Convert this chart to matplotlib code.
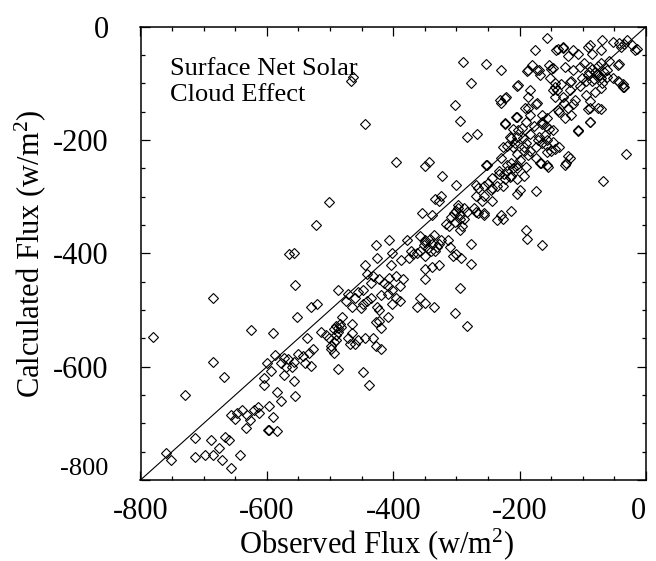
import matplotlib
matplotlib.use('Agg')
import matplotlib.pyplot as plt
from matplotlib.ticker import MultipleLocator

# Observed vs calculated surface net solar cloud effect (W/m^2)
points = [
(-157,-20),(-175,-42),(-139,-39),(-132,-36),(-116,-42),(-123,-52),(-108,-49),(-91,-35),(-69,-23),(-52,-27),
(-35,-30),(-30,-23),(-22,-33),(-18,-42),(-40,-36),(-71,-42),(-85,-49),(-98,-64),(-104,-71),(-88,-71),
(-71,-64),(-58,-61),(-45,-68),(-61,-77),(-78,-83),(-91,-86),(-101,-90),(-85,-96),(-71,-90),(-52,-90),
(-45,-96),(-37,-102),(-35,-107),(-71,-109),(-81,-115),(-95,-121),(-88,-131),(-71,-146),(-91,-146),(-88,-169),
(-108,-184),(-118,-156),(-115,-137),(-124,-143),(-128,-162),(-137,-150),(-131,-124),(-121,-112),(-134,-102),(-118,-96),
(-104,-105),(-144,-99),(-147,-112),(-144,-124),(-152,-90),(-150,-74),(-170,-77),(-167,-86),(-187,-77),(-180,-68),
(-128,-71),(-115,-77),(-154,-68),(-141,-112),(-157,-162),(-164,-156),(-154,-181),(-164,-172),(-170,-194),(-157,-200),
(-147,-203),(-164,-206),(-150,-219),(-157,-222),(-167,-241),(-157,-244),(-137,-213),(-121,-232),(-128,-244),(-174,-232),
(-183,-219),(-193,-213),(-174,-213),(-204,-194),(-213,-197),(-210,-181),(-197,-178),(-204,-159),(-187,-143),(-190,-169),
(-184,-156),(-174,-137),(-223,-172),(-221,-124),(-230,-134),(-204,-105),(-187,-124),(-32,-225),(-68,-273),(-15,-39),
(-230,-77),(-254,-66),(-290,-62),(-277,-99),(-303,-138),(-294,-167),(-284,-194),(-268,-189),(-254,-244),(-220,-210),
(-230,-232),(-213,-241),(-204,-250),(-220,-244),(-210,-250),(-213,-263),(-223,-269),(-232,-260),(-226,-282),(-236,-282),
(-246,-288),(-256,-298),(-266,-285),(-269,-298),(-259,-307),(-272,-320),(-266,-329),(-256,-329),(-243,-307),(-200,-288),
(-174,-290),(-236,-342),(-226,-339),(-213,-326),(-204,-295),(-190,-358),(-189,-374),(-165,-386),(-300,-279),(-323,-263),
(-344,-238),(-349,-245),(-338,-333),(-324,-298),(-328,-307),(-334,-304),(-355,-329),(-317,-348),(-311,-351),(-304,-329),
(-298,-314),(-298,-320),(-288,-320),(-294,-333),(-288,-339),(-302,-345),(-294,-358),(-291,-351),(-308,-336),(-284,-327),
(-269,-327),(-256,-333),(-336,-367),(-357,-370),(-349,-377),(-352,-386),(-338,-383),(-328,-383),(-324,-377),(-334,-396),
(-357,-396),(-349,-405),(-362,-400),(-313,-377),(-310,-389),(-306,-405),(-300,-402),(-293,-408),(-277,-383),(-277,-418),
(-295,-462),(-302,-506),(-283,-528),(-349,-427),(-338,-424),(-328,-421),(-349,-446),(-357,-478),(-362,-494),(-336,-494),
(-349,-487),(-379,-377),(-372,-396),(-388,-411),(-375,-408),(-368,-402),(-402,-399),(-406,-377),(-404,-421),(-428,-386),
(-425,-408),(-445,-421),(-441,-437),(-435,-452),(-448,-465),(-432,-440),(-422,-446),(-415,-452),(-409,-458),(-402,-465),
(-406,-443),(-395,-440),(-385,-446),(-389,-458),(-409,-471),(-395,-478),(-389,-484),(-402,-490),(-419,-474),(-425,-494),
(-422,-500),(-428,-522),(-422,-519),(-409,-512),(-419,-531),(-435,-478),(-441,-484),(-455,-468),(-461,-478),(-471,-471),
(-475,-484),(-488,-465),(-448,-490),(-465,-494),(-451,-497),(-461,-560),(-455,-553),(-445,-550),(-432,-550),(-428,-563),
(-419,-569),(-448,-610),(-438,-632),(-488,-604),(-465,-525),(-465,-541),(-481,-512),(-485,-525),(-488,-531),(-494,-534),
(-491,-544),(-501,-550),(-494,-556),(-498,-563),(-491,-553),(-514,-538),(-507,-544),(-537,-550),(-527,-569),(-534,-575),
(-543,-582),(-550,-578),(-540,-594),(-530,-598),(-498,-569),(-494,-575),(-471,-550),(-468,-560),(-530,-494),(-520,-490),
(-553,-512),(-556,-456),(-557,-399),(-565,-402),(-523,-350),(-501,-310),(-395,-238),(-445,-172),(-467,-96),(-463,-88),
(-685,-478),(-625,-536),(-590,-540),(-686,-591),(-668,-618),(-730,-650),(-781,-547),(-600,-594),(-587,-580),(-573,-584),
(-567,-587),(-577,-594),(-570,-600),(-560,-600),(-557,-591),(-594,-607),(-604,-620),(-604,-632),(-573,-614),(-557,-626),
(-556,-651),(-584,-645),(-577,-661),(-597,-670),(-590,-689),(-597,-711),(-584,-714),(-599,-712),
(-759,-753),(-751,-765),(-714,-726),(-713,-759),(-698,-755),(-685,-756),(-688,-729),(-671,-765),(-657,-778),(-643,-755),
(-675,-744),(-667,-724),(-660,-729),(-656,-685),(-648,-682),(-640,-677),(-633,-709),(-627,-694),(-614,-671),(-613,-682),
(-631,-686),(-620,-676),(-650,-692),
(-200,-235),(-190,-248),(-204,-244),(-232,-254),(-243,-267),(-250,-276),(-243,-285),(-256,-282),(-269,-279),(-204,-269),
(-193,-263),(-230,-333),(-204,-225),(-210,-213),(-193,-219),(-184,-190),(-177,-175),(-190,-206),(-184,-112),
(-189,-79),(-173,-76),(-202,-103),(-231,-129),(-223,-126),(-205,-159),(-192,-144),(-173,-135),(-223,-170),(-215,-194),
(-202,-182),(-226,-212),(-207,-206),(-194,-196),(-187,-226),(-252,-244),(-171,-200),(-160,-191),(-158,-209),(-166,-241),
(-155,-247),(-126,-241),(-124,-229),(-144,-215),(-147,-182),(-139,-147),(-144,-106),(-147,-73),(-142,-41),(-131,-38),
(-89,-32),(-42,-29),(-42,-65),(-42,-97),(-37,-106),(-89,-144),(-76,-144),(-89,-168),(-108,-182),(-129,-135),
(-113,-129),(-121,-97),
(-85,-75),(-80,-80),(-75,-85),(-90,-80),(-82,-92),(-76,-70),(-66,-80),(-95,-95),(-62,-88),(-70,-100),
(-345,-390),(-340,-395),(-350,-380),(-330,-388),(-342,-375),
(-490,-528),(-487,-538),(-483,-530),(-300,-325),(-295,-340),
(-220,-255),(-215,-265),(-225,-260),(-165,-168),(-158,-176),
]
observed = [p[0] for p in points]
calculated = [p[1] for p in points]

ticks = [-800, -600, -400, -200, 0]
tick_labels = ['-800', '-600', '-400', '-200', '0']
one_to_one = [-800, 0]

plt.rcParams['font.family'] = ['Liberation Serif', 'DejaVu Serif']
plt.rcParams['mathtext.fontset'] = 'custom'
plt.rcParams['mathtext.rm'] = 'Liberation Serif'
plt.rcParams['mathtext.it'] = 'Liberation Serif:italic'
plt.rcParams['mathtext.bf'] = 'Liberation Serif:bold'

fig = plt.figure(figsize=(6.56, 5.61), dpi=100)
W, H = 656, 561
left, right, top, bottom = 140.5, 646, 26.7, 480
ax = fig.add_axes([left / W, 1 - bottom / H, (right - left) / W, (bottom - top) / H])

ax.plot(one_to_one, one_to_one, color='black', lw=0.8)
ax.plot(observed, calculated, linestyle='none', marker='D', ms=5,
        mfc='none', mec='black', mew=0.8)

ax.set_xlim(-800, 0)
ax.set_ylim(-800, 0)
ax.set_xticks(ticks)
ax.set_xticklabels(tick_labels)
ax.set_yticks(ticks)
ax.set_yticklabels(tick_labels)
ax.xaxis.set_minor_locator(MultipleLocator(50))
ax.yaxis.set_minor_locator(MultipleLocator(50))
ax.tick_params(which='both', direction='in', top=True, right=True, width=0.9)
ax.tick_params(which='major', length=6.5)
ax.tick_params(which='minor', length=3)
ax.tick_params(axis='x', which='major', labelsize=22, pad=12)
ax.tick_params(axis='y', which='major', labelsize=22, pad=23)
for s in ax.spines.values():
    s.set_linewidth(1.1)

ylabs = ax.get_yticklabels()
ylabs[0].set_fontsize(19)
ylabs[0].set_va('bottom')
xlabs = ax.get_xticklabels()
xlabs[-1].set_ha('right')

ax.set_xlabel(r'Observed Flux (w/m$^{\mathrm{2}}$)', fontsize=22, va='baseline')
ax.xaxis.set_label_coords(0.4675, -0.161)
ax.set_ylabel(r'Calculated Flux (w/m$^{\mathrm{2}}$)', fontsize=22, va='center')
ax.yaxis.set_label_coords(-0.2175, 0.5)

ax.text(0.058, 0.930, 'Surface Net Solar\nCloud Effect', transform=ax.transAxes,
        fontsize=19, ha='left', va='top', linespacing=1.2)

fig.savefig('out.png', dpi=100)
